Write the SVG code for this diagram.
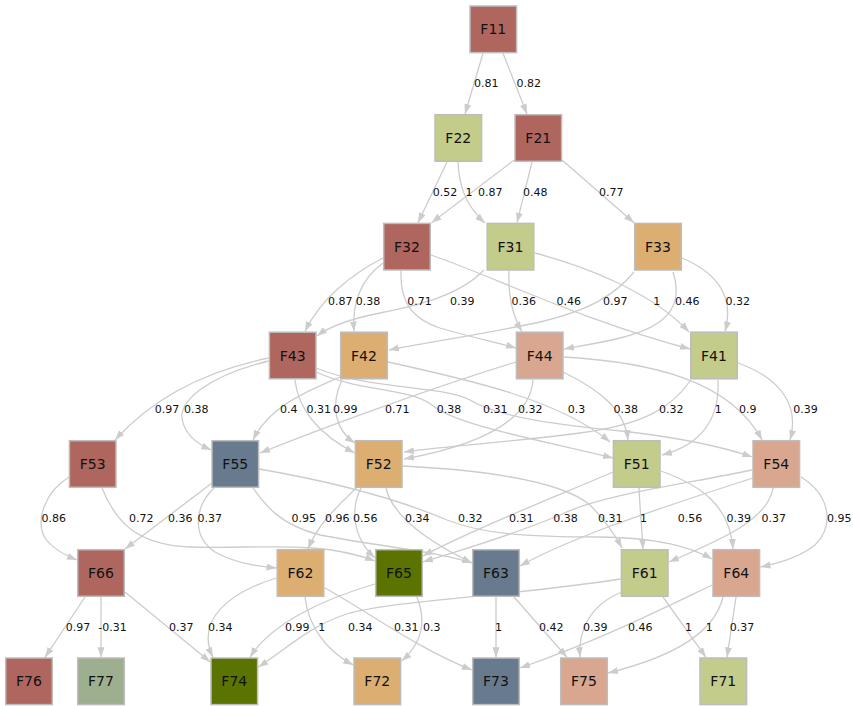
<svg xmlns="http://www.w3.org/2000/svg" width="853" height="706" viewBox="0 0 853 706">
<defs>
<marker id="arr" markerUnits="userSpaceOnUse" markerWidth="11" markerHeight="8" refX="10" refY="3.5" orient="auto">
<path d="M0,0 L10,3.5 L0,7 z" fill="#cccccc"/>
</marker>
</defs>
<style>
.n rect{stroke:#bdbdbd;stroke-width:1.5}
.n text{font-family:"DejaVu Sans",sans-serif;font-size:14px;text-anchor:middle;fill:#111}
.red{fill:#af665f}.olv{fill:#c3cc8b}.tan{fill:#dcae72}.sal{fill:#d9a78f}.sla{fill:#687a8d}.dgr{fill:#5b7300}.sag{fill:#9eaf8f}
#edges path{fill:none;stroke:#cccccc;stroke-width:1.3;marker-end:url(#arr)}
#labels text{font-family:"DejaVu Sans",sans-serif;font-size:11px;text-anchor:middle;fill:#111}
</style>
<rect width="853" height="706" fill="#ffffff"/>
<g id="edges">
<path d="M483,53.3 L465,114"/>
<path d="M503,53.3 L527,114"/>
<path d="M447,162 L418,222.7"/>
<path d="M458,162 C459,185 465,205 485,223"/>
<path d="M514.3,160 L431.5,222.7"/>
<path d="M532,162 L517,222.7"/>
<path d="M562,160 L634,222.7"/>
<path d="M383,258 C350,275 320,300 305,331.5"/>
<path d="M383,263 C360,280 352,305 354,331.5"/>
<path d="M401,271 C400,300 410,318 440,328 C470,337 495,342 516,348"/>
<path d="M431,255 C490,275 580,320 690,349"/>
<path d="M484,270 C460,295 420,305 380,313 C350,319 330,326 317,336"/>
<path d="M509,271 C508,295 512,315 522,331.5"/>
<path d="M535,253 C580,265 650,290 689,332"/>
<path d="M634,272 C615,295 590,310 540,322 C470,337 420,343 389,350"/>
<path d="M673,272 C682,300 675,325 620,338 C600,343 580,346 564,349"/>
<path d="M682,258 C715,272 735,295 725,331.5"/>
<path d="M268.7,358 C220,368 160,390 115,440"/>
<path d="M268.7,361 C210,375 180,400 182,418 C184,433 195,443 211.3,450"/>
<path d="M340,377 C310,390 270,405 253,440"/>
<path d="M295,380 C298,410 320,435 354.7,453"/>
<path d="M342,380 C330,405 335,430 355,443"/>
<path d="M516,362 C440,385 330,425 260,453"/>
<path d="M316,372 C360,392 410,388 432,405 C455,425 540,440 613,458"/>
<path d="M316,368 C370,390 440,385 470,400 C500,418 560,425 630,432 C680,438 720,446 752.3,457"/>
<path d="M533,380 C530,420 480,445 404,459"/>
<path d="M388,362 C470,380 560,400 610,442"/>
<path d="M563,372 C600,390 625,410 628,440"/>
<path d="M690,381 C670,410 640,425 580,433 C500,443 440,447 404,452"/>
<path d="M718,380 C720,420 700,445 662,455"/>
<path d="M564,357 C650,362 730,380 762,440"/>
<path d="M738,363 C780,378 800,405 790,440"/>
<path d="M69,477 C45,492 35,520 45,538 C52,548 62,554 77,560"/>
<path d="M102,488 C115,520 135,545 190,547 C260,549 320,540 375,561"/>
<path d="M212,483 L125,549"/>
<path d="M214,488 C196,505 190,535 215,552 C235,563 255,566 276.5,568"/>
<path d="M253,488 C265,505 280,525 320,535 C390,548 440,552 472,563"/>
<path d="M259,469 C340,483 400,500 447,520 C480,533 520,537 600,537 C660,538 690,547 712.3,559"/>
<path d="M357,487 C340,505 320,520 308,549"/>
<path d="M361,488 C352,505 350,535 375,558"/>
<path d="M386,488 C392,515 425,540 472,563"/>
<path d="M403,466 C480,470 560,480 590,505 C605,520 615,535 622,548"/>
<path d="M613,472 C560,495 470,530 423,556"/>
<path d="M752,470 C680,485 600,495 560,515 C500,540 450,553 423,562"/>
<path d="M639,488 C640,510 642,530 643,549"/>
<path d="M753,478 C700,495 640,515 600,530 C570,542 545,552 520,566"/>
<path d="M661,471 C700,485 730,505 733,549"/>
<path d="M773,488 C768,520 720,540 669,562"/>
<path d="M801,477 C830,495 835,525 815,545 C800,557 780,563 760.5,567"/>
<path d="M85,597 L45,657.3"/>
<path d="M101,597 L101,657.3"/>
<path d="M125,592 L210.3,662"/>
<path d="M276.5,578 C230,592 195,620 213,657.3"/>
<path d="M375,584 C320,600 270,625 250,657.3"/>
<path d="M620.7,579 C520,595 400,600 350,613 C310,625 285,650 258.3,667"/>
<path d="M305,597 C308,625 325,650 353.3,665"/>
<path d="M325,588 C370,613 420,650 472,670"/>
<path d="M417,597 C428,625 420,645 401.7,661"/>
<path d="M496,597 L496,657.3"/>
<path d="M514,597 L567,657.3"/>
<path d="M622,592 C590,605 578,630 580,657.3"/>
<path d="M712.3,585 C660,610 600,640 520,668"/>
<path d="M663,597 L706,657.3"/>
<path d="M723,597 C715,630 680,655 608,673"/>
<path d="M736,597 L727,657.3"/>
</g>
<g id="labels">
<text x="486.2" y="87.3">0.81</text>
<text x="528.8" y="87.3">0.82</text>
<text x="445" y="196">0.52</text>
<text x="469" y="196">1</text>
<text x="490.3" y="196">0.87</text>
<text x="535.3" y="196">0.48</text>
<text x="611.3" y="196">0.77</text>
<text x="340.2" y="304.5">0.87</text>
<text x="368" y="304.5">0.38</text>
<text x="419.5" y="304.5">0.71</text>
<text x="462.3" y="304.5">0.39</text>
<text x="523.7" y="304.5">0.36</text>
<text x="568.7" y="304.5">0.46</text>
<text x="615.3" y="304.5">0.97</text>
<text x="656.8" y="304.5">1</text>
<text x="687.2" y="304.5">0.46</text>
<text x="737.8" y="304.5">0.32</text>
<text x="167" y="413.3">0.97</text>
<text x="196.3" y="413.3">0.38</text>
<text x="288.8" y="413.3">0.4</text>
<text x="318.7" y="413.3">0.31</text>
<text x="345.3" y="413.3">0.99</text>
<text x="397.2" y="413.3">0.71</text>
<text x="449" y="413.3">0.38</text>
<text x="495.3" y="413.3">0.31</text>
<text x="530.3" y="413.3">0.32</text>
<text x="576.5" y="413.3">0.3</text>
<text x="625.8" y="413.3">0.38</text>
<text x="671.2" y="413.3">0.32</text>
<text x="718.2" y="413.3">1</text>
<text x="747.8" y="413.3">0.9</text>
<text x="805.5" y="413.3">0.39</text>
<text x="53.7" y="521.8">0.86</text>
<text x="141.3" y="521.8">0.72</text>
<text x="180.3" y="521.8">0.36</text>
<text x="209.7" y="521.8">0.37</text>
<text x="303.8" y="521.8">0.95</text>
<text x="337.2" y="521.8">0.96</text>
<text x="365.3" y="521.8">0.56</text>
<text x="417.2" y="521.8">0.34</text>
<text x="470.3" y="521.8">0.32</text>
<text x="521.2" y="521.8">0.31</text>
<text x="565.5" y="521.8">0.38</text>
<text x="610.3" y="521.8">0.31</text>
<text x="643.5" y="521.8">1</text>
<text x="690" y="521.8">0.56</text>
<text x="738.8" y="521.8">0.39</text>
<text x="773.7" y="521.8">0.37</text>
<text x="839.2" y="521.8">0.95</text>
<text x="78" y="631">0.97</text>
<text x="112.5" y="631">-0.31</text>
<text x="181.3" y="631">0.37</text>
<text x="220.3" y="631">0.34</text>
<text x="297.3" y="631">0.99</text>
<text x="321.8" y="631">1</text>
<text x="360.3" y="631">0.34</text>
<text x="406.2" y="631">0.31</text>
<text x="431.7" y="631">0.3</text>
<text x="498.5" y="631">1</text>
<text x="551.3" y="631">0.42</text>
<text x="595.3" y="631">0.39</text>
<text x="640.3" y="631">0.46</text>
<text x="688.5" y="631">1</text>
<text x="709.2" y="631">1</text>
<text x="742" y="631">0.37</text>
</g>
<g id="F11" class="n"><rect class="red" x="470" y="6" width="46.6" height="46.6"/><text x="493.3" y="34.3">F11</text></g>
<g id="F22" class="n"><rect class="olv" x="435" y="114.7" width="46.6" height="46.6"/><text x="458.3" y="143">F22</text></g>
<g id="F21" class="n"><rect class="red" x="515" y="114.7" width="46.6" height="46.6"/><text x="538.3" y="143">F21</text></g>
<g id="F32" class="n"><rect class="red" x="383.7" y="223.4" width="46.6" height="46.6"/><text x="407" y="251.7">F32</text></g>
<g id="F31" class="n"><rect class="olv" x="487.2" y="223.4" width="46.6" height="46.6"/><text x="510.5" y="251.7">F31</text></g>
<g id="F33" class="n"><rect class="tan" x="634.7" y="223.4" width="46.6" height="46.6"/><text x="658" y="251.7">F33</text></g>
<g id="F43" class="n"><rect class="red" x="269.4" y="332.2" width="46.6" height="46.6"/><text x="292.7" y="360.5">F43</text></g>
<g id="F42" class="n"><rect class="tan" x="340.7" y="332.2" width="46.6" height="46.6"/><text x="364" y="360.5">F42</text></g>
<g id="F44" class="n"><rect class="sal" x="516.4" y="332.2" width="46.6" height="46.6"/><text x="539.7" y="360.5">F44</text></g>
<g id="F41" class="n"><rect class="olv" x="690.7" y="332.2" width="46.6" height="46.6"/><text x="714" y="360.5">F41</text></g>
<g id="F53" class="n"><rect class="red" x="69.4" y="440.7" width="46.6" height="46.6"/><text x="92.7" y="469">F53</text></g>
<g id="F55" class="n"><rect class="sla" x="212" y="440.7" width="46.6" height="46.6"/><text x="235.3" y="469">F55</text></g>
<g id="F52" class="n"><rect class="tan" x="355.4" y="440.7" width="46.6" height="46.6"/><text x="378.7" y="469">F52</text></g>
<g id="F51" class="n"><rect class="olv" x="613.4" y="440.7" width="46.6" height="46.6"/><text x="636.7" y="469">F51</text></g>
<g id="F54" class="n"><rect class="sal" x="753" y="440.7" width="46.6" height="46.6"/><text x="776.3" y="469">F54</text></g>
<g id="F66" class="n"><rect class="red" x="77.7" y="549.7" width="46.6" height="46.6"/><text x="101" y="578">F66</text></g>
<g id="F62" class="n"><rect class="tan" x="277.2" y="549.7" width="46.6" height="46.6"/><text x="300.5" y="578">F62</text></g>
<g id="F65" class="n"><rect class="dgr" x="375.7" y="549.7" width="46.6" height="46.6"/><text x="399" y="578">F65</text></g>
<g id="F63" class="n"><rect class="sla" x="472.7" y="549.7" width="46.6" height="46.6"/><text x="496" y="578">F63</text></g>
<g id="F61" class="n"><rect class="olv" x="621.4" y="549.7" width="46.6" height="46.6"/><text x="644.7" y="578">F61</text></g>
<g id="F64" class="n"><rect class="sal" x="713" y="549.7" width="46.6" height="46.6"/><text x="736.3" y="578">F64</text></g>
<g id="F76" class="n"><rect class="red" x="5.7" y="658" width="46.6" height="46.6"/><text x="29" y="686.3">F76</text></g>
<g id="F77" class="n"><rect class="sag" x="77.7" y="658" width="46.6" height="46.6"/><text x="101" y="686.3">F77</text></g>
<g id="F74" class="n"><rect class="dgr" x="211" y="658" width="46.6" height="46.6"/><text x="234.3" y="686.3">F74</text></g>
<g id="F72" class="n"><rect class="tan" x="354" y="658" width="46.6" height="46.6"/><text x="377.3" y="686.3">F72</text></g>
<g id="F73" class="n"><rect class="sla" x="472.7" y="658" width="46.6" height="46.6"/><text x="496" y="686.3">F73</text></g>
<g id="F75" class="n"><rect class="sal" x="560.7" y="658" width="46.6" height="46.6"/><text x="584" y="686.3">F75</text></g>
<g id="F71" class="n"><rect class="olv" x="700" y="658" width="46.6" height="46.6"/><text x="723.3" y="686.3">F71</text></g>
</svg>
